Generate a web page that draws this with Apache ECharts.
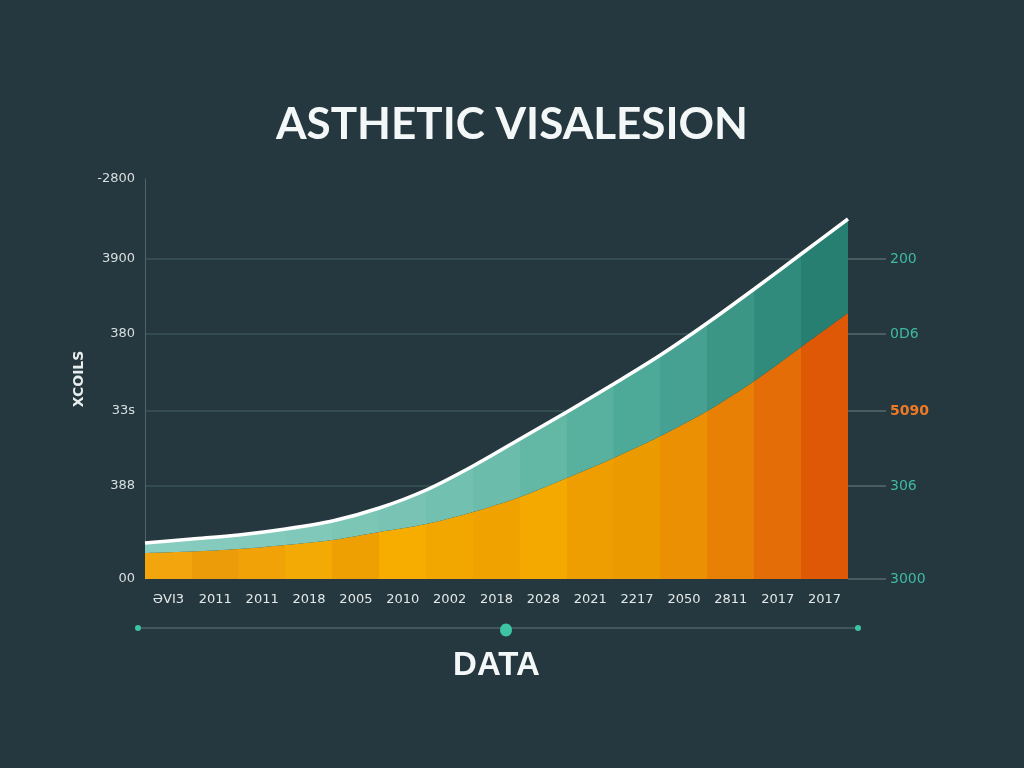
<!DOCTYPE html>
<html>
<head>
<meta charset="utf-8">
<script src="https://cdn.jsdelivr.net/npm/echarts@6/dist/echarts.min.js"></script>
<style>
html,body{margin:0;padding:0;background:#25383f;}
#chart{width:1024px;height:768px;}
</style>
</head>
<body>
<div id="chart"></div>
<script>
// ---- data ----
const categories = ["ƏVI3","2011","2011","2018","2005","2010","2002","2018","2028","2021","2217","2050","2811","2017","2017"];
// values at the 16 band boundaries
const orangeValues = [26, 27.5, 30, 34, 39, 47, 55, 67, 82, 101, 121, 143, 168, 198, 232, 266];
const tealValues   = [10, 12.5, 14, 16, 19, 24, 34, 46, 58, 66, 74, 81, 88, 92, 93, 94];
const leftTickValues  = [0, 93, 168, 245, 320, 400];
const leftTickLabels  = ["00", "388", "33s", "380", "3900", "-2800"];
const rightTickValues = [0, 93, 168, 245, 320];
const rightTickLabels = ["3000", "306", "5090", "0D6", "200"];
const gridValues = [93, 168, 245, 320];

// ---- styles ----
const orangeBands = ["#f2a50c","#eb9c08","#f0a206","#f4aa04","#ee9f02","#f6ad00","#f2a700","#efa200","#f4a900","#ee9e00","#eb9a00","#ea9002","#e88006","#e46d08","#de5806"];
const tealBands = ["#86ccbf","#84cbbd","#82cabc","#80c9ba","#7cc6b6","#78c3b3","#72c0af","#6bbcab","#62b7a5","#58b19f","#4eaa98","#47a192","#3b9686","#318b7c","#267f71"];

function bandGradient(colors) {
  const stops = [];
  const n = colors.length;
  colors.forEach((c, i) => {
    stops.push({ offset: i / n, color: c });
    stops.push({ offset: Math.min(1, (i + 1) / n - 0.0005), color: c });
  });
  return new echarts.graphic.LinearGradient(0, 0, 1, 0, stops);
}

const chart = echarts.init(document.getElementById('chart'));
const labelFont = 'DejaVu Sans';

chart.setOption({
  backgroundColor: '#25383f',
  animation: false,
  title: {
    text: 'ASTHETIC VISALESION',
    left: 'center',
    top: 98,
    textStyle: { color: '#f4f7f7', fontSize: 44, fontWeight: 'bold', fontFamily: 'Lato' }
  },
  grid: { left: 145, right: 176, top: 179, bottom: 189 },
  xAxis: [
    {
      type: 'category',
      data: categories,
      boundaryGap: true,
      axisLine: { show: false },
      axisTick: { show: false },
      axisLabel: { color: '#e3e8e8', fontSize: 13, fontFamily: labelFont, margin: 14 },
      name: 'DATA',
      nameLocation: 'middle',
      nameGap: 70,
      nameTextStyle: { color: '#f4f7f7', fontSize: 33, fontWeight: 'bold', fontFamily: 'Liberation Sans' }
    },
    {
      type: 'category',
      data: orangeValues.map((_, i) => String(i)),
      boundaryGap: false,
      show: false
    }
  ],
  yAxis: [
    {
      type: 'value',
      min: 0,
      max: 400,
      position: 'left',
      name: 'XCOILS',
      nameLocation: 'middle',
      nameRotate: 90,
      nameGap: 56,
      nameTextStyle: { color: '#e8eded', fontSize: 14, fontWeight: 'bold', fontFamily: labelFont },
      axisLine: { show: true, lineStyle: { color: '#4d6469', width: 1 } },
      axisTick: { show: false, customValues: gridValues },
      axisLabel: {
        customValues: leftTickValues,
        color: '#d8dfdf', fontSize: 13, fontFamily: labelFont, margin: 10,
        formatter: (v) => leftTickLabels[leftTickValues.indexOf(v)]
      },
      splitLine: { show: true, lineStyle: { color: '#3a5559', width: 1.5 } }
    },
    {
      type: 'value',
      min: 0,
      max: 400,
      position: 'right',
      axisLine: { show: false },
      axisTick: { show: true, length: 38, customValues: rightTickValues, lineStyle: { color: '#56696d', width: 1.5 } },
      axisLabel: {
        customValues: rightTickValues,
        fontSize: 14, fontFamily: labelFont, margin: 42,
        formatter: (v) => {
          const t = rightTickLabels[rightTickValues.indexOf(v)];
          return v === 168 ? '{o|' + t + '}' : '{t|' + t + '}';
        },
        rich: {
          t: { color: '#3fb9a2', fontSize: 14, fontFamily: labelFont },
          o: { color: '#ee7a26', fontSize: 14, fontWeight: 'bold', fontFamily: labelFont }
        }
      },
      splitLine: { show: false }
    }
  ],
  series: [
    {
      name: 'base',
      type: 'line',
      xAxisIndex: 1,
      yAxisIndex: 0,
      stack: 'total',
      smooth: 0.3,
      symbol: 'none',
      data: orangeValues,
      lineStyle: { width: 0 },
      areaStyle: { color: bandGradient(orangeBands), opacity: 1 },
      z: 3
    },
    {
      name: 'top',
      type: 'line',
      xAxisIndex: 1,
      yAxisIndex: 0,
      stack: 'total',
      smooth: 0.3,
      symbol: 'none',
      data: tealValues,
      lineStyle: { width: 3.5, color: '#ffffff' },
      areaStyle: { color: bandGradient(tealBands), opacity: 1 },
      z: 4
    }
  ],
  graphic: [
    { type: 'line', shape: { x1: 138, y1: 628, x2: 858, y2: 628 }, style: { stroke: '#4b6267', lineWidth: 1.5 }, silent: true },
    { type: 'circle', shape: { cx: 138, cy: 628, r: 3 }, style: { fill: '#3cc4a4' }, silent: true },
    { type: 'circle', shape: { cx: 858, cy: 628, r: 3 }, style: { fill: '#3cc4a4' }, silent: true },
    { type: 'ellipse', shape: { cx: 506, cy: 630, rx: 6, ry: 6.5 }, style: { fill: '#3cc4a4' }, silent: true }
  ]
});
</script>
</body>
</html>
